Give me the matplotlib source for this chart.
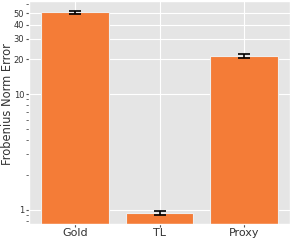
import matplotlib
matplotlib.use("Agg")
import matplotlib.pyplot as plt
import numpy as np

plt.style.use("ggplot")

methods = ["Gold", "TL", "Proxy"]
errors = [51.0, 0.94, 21.5]
err_sd = [1.6, 0.04, 0.8]

major_ticks = [1, 10, 20, 30, 40, 50]
minor_ticks = [0.8, 0.9, 2, 3, 4, 5, 6, 7, 8, 9, 60]

fig = plt.figure(figsize=(2.91, 2.40), dpi=100)
ax = fig.add_axes([29/291, 16/240, 261/291, 223/240])

x = np.arange(len(methods))
ax.bar(x, errors, 0.8, yerr=err_sd, color="#F47C37",
       edgecolor="#EEEEEE", linewidth=0.8,
       error_kw=dict(ecolor="black", capsize=4, elinewidth=1.2, capthick=1.2))

ax.set_yscale("log")
ax.set_ylim(0.75, 64)
ax.set_xlim(-0.54, 2.54)
ax.set_yticks(major_ticks)
ax.set_yticklabels([str(t) for t in major_ticks], fontsize=6)
ax.set_yticks(minor_ticks, minor=True)
ax.yaxis.set_minor_formatter(matplotlib.ticker.NullFormatter())
ax.set_xticks(x)
ax.set_xticklabels(methods, fontsize=8, color="#333333")
ax.tick_params(axis="x", pad=1, length=2, colors="#555555", labelcolor="#333333")
ax.tick_params(axis="y", pad=1, length=2.5, colors="#555555", labelcolor="#333333")
ax.tick_params(axis="y", which="minor", length=2, color="#555555")
ax.grid(True, which="major", color="white", linewidth=0.8)
ax.set_ylabel("Frobenius Norm Error", fontsize=8.3, color="#333333")
ax.yaxis.set_label_coords(-0.058, 0.536)

fig.savefig("out.png", dpi=100)
